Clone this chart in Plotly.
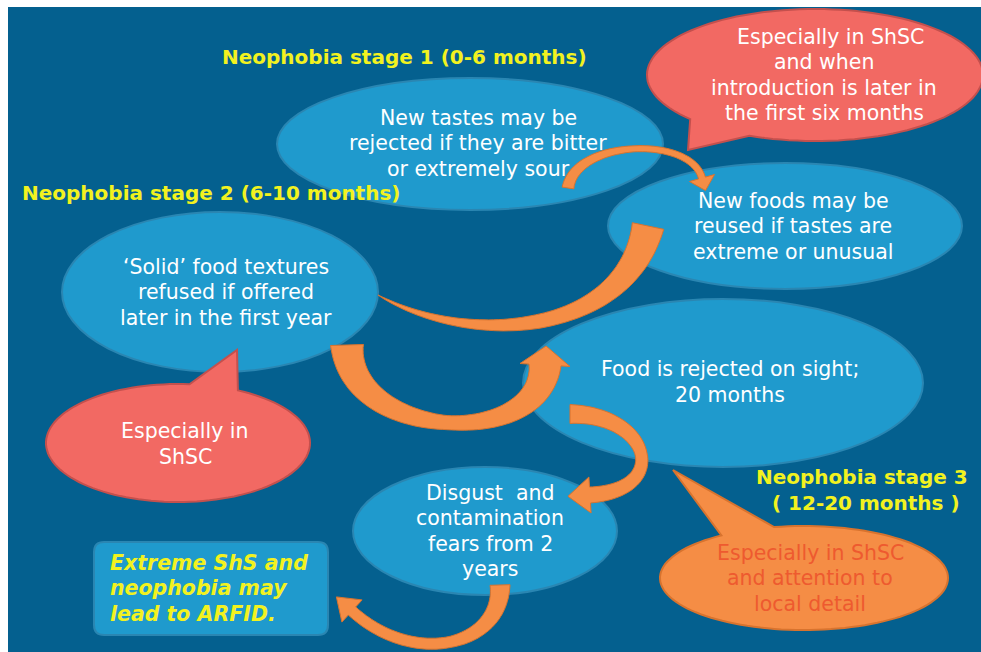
import numpy as np
import plotly.graph_objects as go

# ---------------- text content ----------------
stage_labels = ["Neophobia stage 1 (0-6 months)",
                "Neophobia stage 2 (6-10 months)",
                "Neophobia stage 3<br> ( 12-20 months )"]
bubble_texts = ["New tastes may be<br>rejected if they are bitter<br>or extremely sour",
                "New foods may be<br>reused if tastes are<br>extreme or unusual",
                "‘Solid’ food textures<br>refused if offered<br>later in the first year",
                "Food is rejected on sight;<br>20 months",
                "Disgust  and<br>contamination<br>fears from 2<br>years"]
callout_texts = ["  Especially in ShSC<br>and when<br>introduction is later in<br>the first six months",
                 "Especially in<br>ShSC",
                 "Especially in ShSC<br>and attention to<br>local detail"]
note_text = "Extreme ShS and<br>neophobia may<br>lead to ARFID."

# ---------------- layout geometry (pixels, y down) ----------------
W, H = 981, 652
BG = "#04608F"
LB = "#1F9ACD"
LB_LINE = "#2A86B2"
RED = "#F26963"
RED_LINE = "#C4504D"
ORG = "#F58D45"
ORG_LINE = "#D8732E"
YEL = "#F2F21F"
FONT = "DejaVu Sans, Verdana, sans-serif"
FONT_SIZE = 20.5
HEAD_SIZE = 20
LINE_GAP = 25.5

bubbles = [(470, 144, 193, 66), (785, 226, 177, 63), (220, 292, 158, 80),
           (723, 383, 200, 84), (485, 531, 132, 64)]
bubble_text_pos = [(478, 143), (793, 226), (226, 292), (730, 382), (490, 531)]

callouts = [  # cx, cy, rx, ry, base angles, tip, fill, line
    (815, 75, 168, 66, (113, 138), (688, 150), RED, RED_LINE),
    (178, 443, 132, 59, (-85, -63), (237, 350), RED, RED_LINE),
    (804, 578, 144, 52, (-125, -102), (673, 470), ORG, ORG_LINE),
]
callout_text_pos = [(824, 75), (185, 444), (810, 578)]
callout_text_col = ["white", "white", "#EE5A2F"]

stage_pos = [(404, 57), (211, 193), (862, 490)]

arrows = [  # bezier ctrl pts, width start, width mid, width end, head (len, halfwidth) or None
    ([(568, 188), (575, 140), (690, 135), (702, 178)], 12, 6, 7, (13, 13)),
    ([(378, 295), (470, 348), (625, 335), (648, 226)], 0, 14, 32, None),
    ([(347, 345), (350, 440), (540, 450), (545, 365)], 33, 14, 32, (19, 25)),
    ([(570, 414), (650, 414), (672, 490), (590, 495)], 19, 12, 16, (22, 18)),
    ([(500, 585), (502, 645), (415, 668), (352, 611)], 20, 11, 11, (21, 15)),
]


def ell_pts(cx, cy, rx, ry, a0, a1, n=80):
    a = np.radians(np.linspace(a0, a1, n))
    return list(zip(cx + rx * np.cos(a), cy + ry * np.sin(a)))


def path_from(pts):
    return "M " + " L ".join(f"{x:.1f},{y:.1f}" for x, y in pts) + " Z"


def callout_path(cx, cy, rx, ry, ang, tip):
    a1, a2 = ang
    pts = ell_pts(cx, cy, rx, ry, a2, a1 + 360, 120)
    pts.append(tip)
    return path_from(pts)


def bez(P, t):
    P = np.array(P, float)
    t = t[:, None]
    p = ((1 - t) ** 3) * P[0] + 3 * ((1 - t) ** 2) * t * P[1] + 3 * (1 - t) * t * t * P[2] + t ** 3 * P[3]
    d = 3 * ((1 - t) ** 2) * (P[1] - P[0]) + 6 * (1 - t) * t * (P[2] - P[1]) + 3 * t * t * (P[3] - P[2])
    return p, d


def arrow_path(P, w0, wm, w1, head):
    t = np.linspace(0, 1, 70)
    p, d = bez(P, t)
    d = d / np.linalg.norm(d, axis=1)[:, None]
    n = np.stack([-d[:, 1], d[:, 0]], axis=1)
    w = np.where(t < 0.5, w0 + (wm - w0) * (t / 0.5) ** 0.8, wm + (w1 - wm) * ((t - 0.5) / 0.5) ** 1.5)
    left = p + n * (w[:, None] / 2)
    right = p - n * (w[:, None] / 2)
    pts = [tuple(q) for q in left]
    if head:
        hl, hw = head
        e, de, ne = p[-1], d[-1], n[-1]
        pts += [tuple(e + ne * hw), tuple(e + de * hl), tuple(e - ne * hw)]
    pts += [tuple(q) for q in right[::-1]]
    return path_from(pts)


shapes = []
shapes.append(dict(type="rect", x0=8, y0=7, x1=W + 5, y1=H + 5, fillcolor=BG, line=dict(width=0), layer="below"))


def add_ellipse(b):
    cx, cy, rx, ry = b
    shapes.append(dict(type="circle", x0=cx - rx, x1=cx + rx, y0=cy - ry, y1=cy + ry,
                       fillcolor=LB, line=dict(color=LB_LINE, width=2)))


def add_arrow(a):
    shapes.append(dict(type="path", path=arrow_path(*a), fillcolor=ORG,
                       line=dict(color=ORG_LINE, width=1)))


def add_callout(c):
    cx, cy, rx, ry, ang, tip, fill, line = c
    shapes.append(dict(type="path", path=callout_path(cx, cy, rx, ry, ang, tip),
                       fillcolor=fill, line=dict(color=line, width=2)))


add_callout(callouts[0])
add_ellipse(bubbles[0])
add_ellipse(bubbles[1])
add_arrow(arrows[0])
add_ellipse(bubbles[2])
add_callout(callouts[1])
add_arrow(arrows[1])
add_ellipse(bubbles[3])
add_arrow(arrows[2])
add_ellipse(bubbles[4])
add_arrow(arrows[3])
add_callout(callouts[2])
shapes.append(dict(type="path",
                   path="M 104,542 L 318,542 Q 328,542 328,552 L 328,625 Q 328,635 318,635 "
                        "L 104,635 Q 94,635 94,625 L 94,552 Q 94,542 104,542 Z",
                   fillcolor=LB, line=dict(color=LB_LINE, width=2)))
add_arrow(arrows[4])

annotations = []


def add_lines(txt, x, y, font, anchor="center", gap=LINE_GAP):
    lines = txt.split("<br>")
    n = len(lines)
    for i, ln in enumerate(lines):
        annotations.append(dict(x=x, y=y + (i - (n - 1) / 2) * gap,
                                text=ln.replace(" ", "\u00a0") if ln.startswith(" ") else ln,
                                showarrow=False, xanchor=anchor, yanchor="middle", font=font))


for txt, (x, y) in zip(bubble_texts, bubble_text_pos):
    add_lines(txt, x, y, dict(family=FONT, size=FONT_SIZE, color="white"))
for txt, (x, y), col in zip(callout_texts, callout_text_pos, callout_text_col):
    add_lines(txt, x, y, dict(family=FONT, size=FONT_SIZE, color=col))
for txt, (x, y) in zip(stage_labels, stage_pos):
    add_lines(txt, x, y, dict(family=FONT, size=HEAD_SIZE, color=YEL, weight="bold"))
add_lines(note_text, 108, 588, dict(family=FONT, size=FONT_SIZE, color=YEL, weight="bold", style="italic"),
          anchor="left")

fig = go.Figure()
fig.update_layout(
    width=W, height=H, margin=dict(l=0, r=0, t=0, b=0),
    paper_bgcolor="white", plot_bgcolor="white",
    xaxis=dict(range=[0, W], visible=False, fixedrange=True),
    yaxis=dict(range=[H, 0], visible=False, fixedrange=True),
    shapes=shapes, annotations=annotations, showlegend=False,
)
fig.write_html("out.html", config={"displayModeBar": False},
               post_script="document.body.style.margin='0';document.body.style.overflow='hidden';")
